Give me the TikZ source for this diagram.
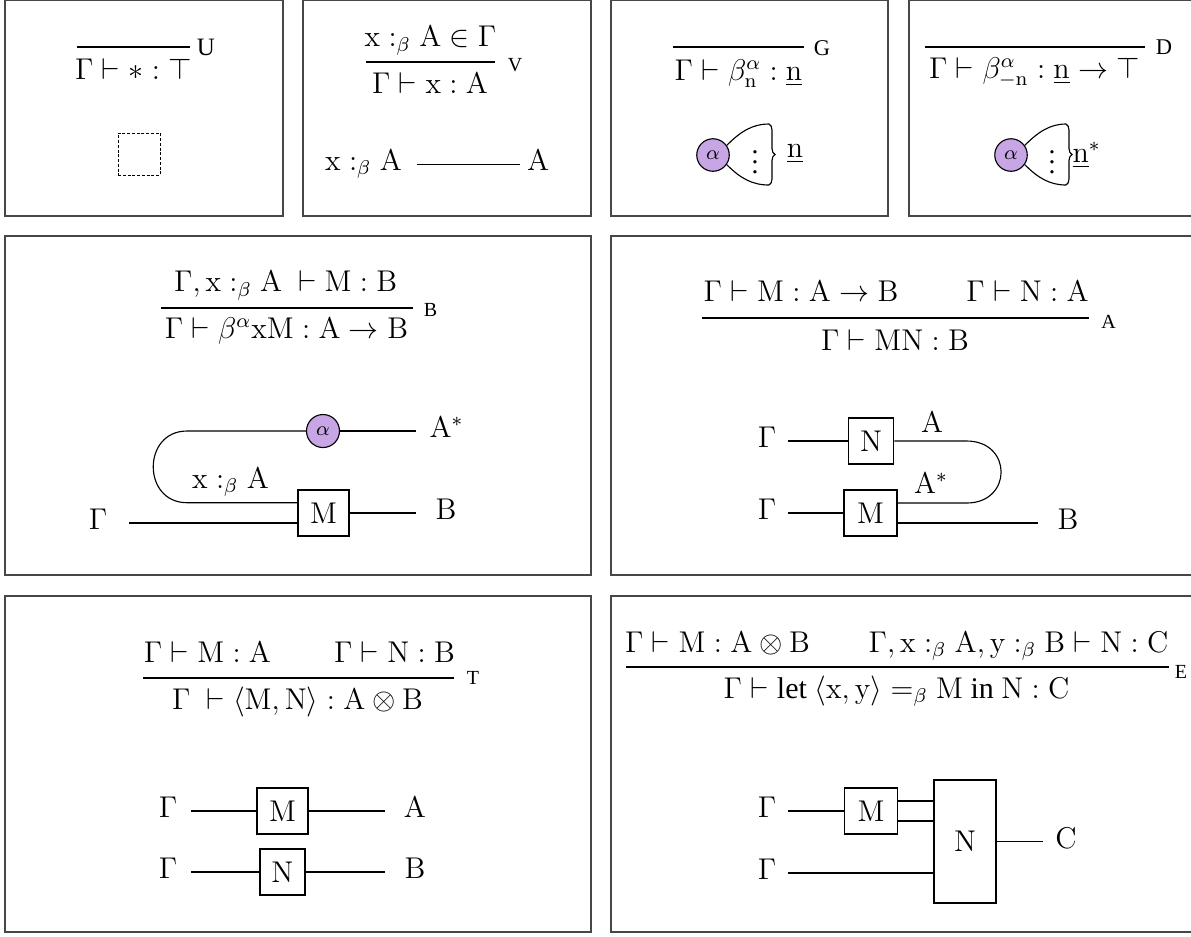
\documentclass[tikz,border=0pt]{standalone}
\usepackage{amsmath}
\usepackage[no-math]{fontspec}
\setmainfont{Liberation Serif}
\usetikzlibrary{decorations.pathreplacing}
\DeclareMathSymbol{A}{\mathalpha}{operators}{`A}
\DeclareMathSymbol{B}{\mathalpha}{operators}{`B}
\DeclareMathSymbol{C}{\mathalpha}{operators}{`C}
\DeclareMathSymbol{M}{\mathalpha}{operators}{`M}
\DeclareMathSymbol{N}{\mathalpha}{operators}{`N}
\DeclareMathSymbol{x}{\mathalpha}{operators}{`x}
\DeclareMathSymbol{y}{\mathalpha}{operators}{`y}
\DeclareMathSymbol{n}{\mathalpha}{operators}{`n}
\definecolor{lav}{RGB}{200,166,230}
\newcommand*\fsbase{\fontsize{12pt}{14pt}\selectfont}
\newcommand*\fsbig{\fontsize{13.2pt}{15pt}\selectfont}
\newcommand*\fsmid{\fontsize{12pt}{14pt}\selectfont}
\newcommand*\lbbase{\fontsize{8pt}{9pt}\selectfont}
\newcommand*\lbbig{\fontsize{10pt}{11pt}\selectfont}
\newcommand*\lbmid{\fontsize{9pt}{10pt}\selectfont}
\begin{document}
\begin{tikzpicture}[x=0.4pt,y=-0.4pt,
  panel/.style={draw=black!72, line width=0.5pt},
  wire/.style={line width=0.45pt},
  bar/.style={line width=0.85pt},
  tm/.style={anchor=base, inner sep=0pt, font=\fsbase},
  lb/.style={inner sep=0pt, font=\lbbase},
  gate/.style={draw, line width=0.45pt, inner sep=0pt, minimum height=18.4pt, font=\fsbase},
  spot/.style={circle, draw, fill=lav, line width=0.45pt, minimum size=13pt, inner sep=0pt, font=\fontsize{7.8pt}{8pt}\selectfont},
  brc/.style={wire, decorate, decoration={brace, amplitude=2.4pt}}
]
\useasboundingbox (0,0) rectangle (1191,936);
\clip (0,0) rectangle (1191,936);

% panels
\draw[panel] (5,0.6) rectangle (283,216);
\draw[panel] (303,0.6) rectangle (591,216);
\draw[panel] (611,0.6) rectangle (888,216);
\draw[panel] (909,0.6) rectangle (1210,216);
\draw[panel] (5,236) rectangle (591,575);
\draw[panel] (611,236) rectangle (1210,575);
\draw[panel] (5,596) rectangle (591,932);
\draw[panel] (611,596) rectangle (1210,932);

% ---------- P1 : U
\node[tm, font=\fsbig] (c1) at (133.5,79) {$\Gamma\vdash \ast : \top$};
\coordinate (b1l) at (77,46.7); \coordinate (b1r) at (190,46.7);
\draw[bar] (b1l) -- (b1r);
\node[lb, font=\lbbig] (u1) at (206,47) {U};
\node[draw, dash pattern=on 1.2pt off 0.7pt, line width=0.4pt, minimum size=16.8pt, inner sep=0pt] (e1) at (139,154) {};

% ---------- P2 : V
\node[tm] (h2) at (430.5,46.7) {$x :_\beta A \in \Gamma$};
\coordinate (b2l) at (366,61.7); \coordinate (b2r) at (495,61.7);
\draw[bar] (b2l) -- (b2r);
\node[tm] (c2) at (430,93) {$\Gamma\vdash x : A$};
\node[lb] (v2) at (515,65) {V};
\node[tm] (x2) at (363.5,170) {$x :_\beta A$};
\node[tm] (a2) at (538,170) {$A$};
\coordinate (w2l) at (417,164.5); \coordinate (w2r) at (520,164.5);
\draw[wire] (w2l) -- (w2r);

% ---------- P3 : G
\node[tm, font=\fsmid] (c3) at (738.5,80) {$\Gamma\vdash \beta^\alpha_n : \underline{n}$};
\coordinate (b3l) at (673,46.7); \coordinate (b3r) at (804,46.7);
\draw[bar] (b3l) -- (b3r);
\node[lb, font=\lbmid] (g3) at (822,48) {G};
\node[spot] (s3) at (713,155) {$\alpha$};
\node[inner sep=0pt, font=\fontsize{11pt}{13pt}\selectfont] (d3) at (755,155) {$\vdots$};
\coordinate (t3) at (769,124); \coordinate (u3) at (769,185);
\draw[brc] (t3) -- (u3);
\draw[wire] (s3.35) .. controls (740,132) and (752,124) .. (t3);
\draw[wire] (s3.-35) .. controls (740,178) and (752,185) .. (u3);
\node[tm, font=\fsmid] (n3) at (795,157) {$\underline{n}$};

% ---------- P4 : D
\node[tm, font=\fsmid] (c4) at (1034.5,78) {$\Gamma\vdash \beta^\alpha_{-n} : \underline{n}\to\top$};
\coordinate (b4l) at (925,46.7); \coordinate (b4r) at (1145,46.7);
\draw[bar] (b4l) -- (b4r);
\node[lb, font=\lbmid] (dd4) at (1164,47) {D};
\node[spot] (s4) at (1011,155) {$\alpha$};
\node[inner sep=0pt, font=\fontsize{11pt}{13pt}\selectfont] (d4) at (1052,155) {$\vdots$};
\coordinate (t4) at (1066,124); \coordinate (u4) at (1066,185);
\draw[brc] (t4) -- (u4);
\draw[wire] (s4.35) .. controls (1038,132) and (1050,124) .. (t4);
\draw[wire] (s4.-35) .. controls (1038,178) and (1050,185) .. (u4);
\node[tm, font=\fsmid, anchor=base west] (n4) at (1072,162) {$\underline{n}^*$};

% ---------- P5 : B
\node[tm] (h5) at (285.7,291.7) {$\Gamma, x :_\beta A\ \vdash M : B$};
\coordinate (b5l) at (161,308); \coordinate (b5r) at (412.6,308);
\draw[bar] (b5l) -- (b5r);
\node[tm] (c5) at (286.5,338) {$\Gamma\vdash \beta^\alpha x M : A\to B$};
\node[lb] (l5) at (430.6,310) {B};
\node[spot, minimum size=13.2pt] (s5) at (323,431) {$\alpha$};
\node[gate, minimum width=20.4pt] (m5) at (323.5,513) {$M$};
\coordinate (p5tl) at (187,431); \coordinate (p5tr) at (416.4,431);
\coordinate (p5bl) at (187,502.7); \coordinate (p5g) at (129,523);
\coordinate (p5o) at (416.4,513);
\draw[wire] (s5.east) -- (p5tr);
\draw[wire] (s5.west) -- (p5tl) .. controls +(-45,0) and +(-45,0) .. (p5bl) -- (p5bl -| m5.west);
\draw[wire] (p5g) -- (p5g -| m5.west);
\draw[wire] (m5.east |- p5o) -- (p5o);
\node[tm] (g5) at (98,529.5) {$\Gamma$};
\node[tm, anchor=base west] (as5) at (429,437.5) {$A^*$};
\node[tm] (bo5) at (446,519.5) {$B$};
\node[tm] (xa5) at (230.5,488) {$x :_\beta A$};

% ---------- P6 : A
\node[tm] (h6a) at (801,301.7) {$\Gamma\vdash M : A\to B$};
\node[tm] (h6b) at (1027.5,301.7) {$\Gamma\vdash N : A$};
\coordinate (b6l) at (702,318); \coordinate (b6r) at (1089,318);
\draw[bar] (b6l) -- (b6r);
\node[tm] (c6) at (895,350) {$\Gamma\vdash MN : B$};
\node[lb] (l6) at (1108.5,322) {A};
\node[gate, minimum width=18.2pt] (n6) at (871,441) {$N$};
\node[gate, minimum width=21.2pt] (m6) at (870.5,513) {$M$};
\coordinate (p6a) at (787.5,441); \coordinate (p6b) at (787.5,513);
\coordinate (p6c1) at (966.6,441); \coordinate (p6c2) at (966.6,503);
\coordinate (p6o) at (1037.5,523);
\draw[wire] (p6a) -- (n6.west);
\draw[wire] (n6.east) -- (p6c1) .. controls +(46,0) and +(46,0) .. (p6c2) -- (p6c2 -| m6.east);
\draw[wire] (p6b) -- (m6.west);
\draw[wire] (m6.east |- p6o) -- (p6o);
\node[tm] (g6a) at (767,447.5) {$\Gamma$};
\node[tm] (g6b) at (767,519.5) {$\Gamma$};
\node[tm] (a6) at (932,432) {$A$};
\node[tm] (as6) at (931,493) {$A^*$};
\node[tm] (bo6) at (1068,529.5) {$B$};

% ---------- P7 : T
\node[tm] (h7a) at (207.5,662) {$\Gamma\vdash M : A$};
\node[tm] (h7b) at (394.5,662) {$\Gamma\vdash N : B$};
\coordinate (b7l) at (143,677.7); \coordinate (b7r) at (454,677.7);
\draw[bar] (b7l) -- (b7r);
\node[tm] (c7) at (297.5,709) {$\Gamma\ \vdash \langle M, N\rangle : A\otimes B$};
\node[lb] (l7) at (473,678) {T};
\node[gate, minimum width=20.4pt] (m7) at (282.5,811) {$M$};
\node[gate, minimum width=18pt] (n7) at (282.5,872) {$N$};
\coordinate (p7a) at (191,811); \coordinate (p7ao) at (385,811);
\coordinate (p7b) at (191,872); \coordinate (p7bo) at (385,872);
\draw[wire] (p7a) -- (m7.west); \draw[wire] (m7.east) -- (p7ao);
\draw[wire] (p7b) -- (n7.west); \draw[wire] (n7.east) -- (p7bo);
\node[tm] (g7a) at (168,817.5) {$\Gamma$};
\node[tm] (g7b) at (168,878.5) {$\Gamma$};
\node[tm] (a7) at (415,817.5) {$A$};
\node[tm] (bo7) at (415,878.5) {$B$};

% ---------- P8 : E
\node[tm] (h8a) at (717.5,652) {$\Gamma\vdash M : A\otimes B$};
\node[tm] (h8b) at (1018.5,652) {$\Gamma, x :_\beta A, y :_\beta B\vdash N : C$};
\coordinate (b8l) at (626,667); \coordinate (b8r) at (1169,667);
\draw[bar] (b8l) -- (b8r);
\node[tm] (c8) at (896.5,698) {$\Gamma\vdash \text{let}\ \langle x,y\rangle =_\beta M\ \text{in}\ N : C$};
\node[lb] (l8) at (1181,672) {E};
\node[gate, minimum width=20.9pt] (m8) at (871,811) {$M$};
\node[gate, minimum width=24.8pt, minimum height=49.2pt] (n8) at (965,841.5) {$N$};
\coordinate (p8a) at (787.5,811); \coordinate (p8b) at (787.5,873);
\coordinate (p8o) at (1043,841.5);
\draw[wire] (p8a) -- (m8.west);
\draw[wire] ([yshift=4pt]m8.east) -- ([yshift=4pt]m8.east -| n8.west);
\draw[wire] ([yshift=-4pt]m8.east) -- ([yshift=-4pt]m8.east -| n8.west);
\draw[wire] (p8b) -- (p8b -| n8.west);
\draw[wire] (n8.east) -- (p8o);
\node[tm] (g8a) at (767,817.5) {$\Gamma$};
\node[tm] (g8b) at (767,879.5) {$\Gamma$};
\node[tm] (cc8) at (1066,848) {$C$};
\end{tikzpicture}
\end{document}
